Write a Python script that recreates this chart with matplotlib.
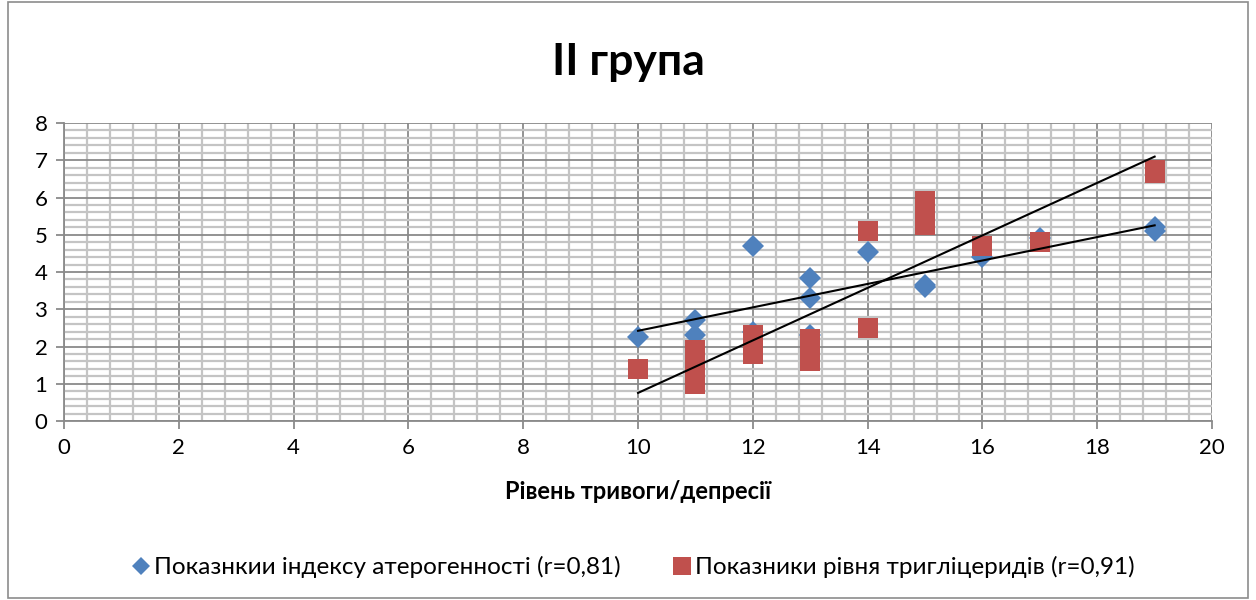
import matplotlib
matplotlib.use("Agg")
import matplotlib.pyplot as plt
import numpy as np
from matplotlib.patches import Rectangle
from matplotlib.ticker import MultipleLocator

plt.rcParams['font.family'] = ['Lato', 'DejaVu Sans']

title = "II група"
xlabel = "Рівень тривоги/депресії"
label_a = "Показнкии індексу атерогенності (r=0,81)"
label_t = "Показники рівня тригліцеридів (r=0,91)"

athero_x = [10, 11, 11, 12, 12, 13, 13, 13, 14, 15, 15, 16, 17, 19, 19]
athero_y = [2.25, 2.7, 2.3, 4.7, 2.4, 3.85, 3.3, 2.3, 4.55, 3.6, 3.65, 4.4, 4.9, 5.2, 5.1]

trig_x = [10, 11, 11, 11, 11, 11, 12, 12, 12, 13, 13, 13, 13, 14, 14, 15, 15, 15, 15, 16, 17, 19, 19]
trig_y = [1.4, 1.0, 1.2, 1.5, 1.7, 1.9, 1.8, 2.0, 2.3, 1.6, 1.8, 2.0, 2.2, 2.5, 5.1,
          5.25, 5.45, 5.65, 5.9, 4.7, 4.8, 6.65, 6.75]

blue = "#4F81BD"
red = "#C0504D"

fig = plt.figure(figsize=(12.56, 6.0), dpi=100)
fig.patches.append(Rectangle((0.006, 0.004), 0.988, 0.992, transform=fig.transFigure,
                             fill=False, edgecolor="#8c8c8c", linewidth=1.2))
ax = fig.add_axes([0.051, 0.2983, 0.914, 0.4967])

ax.set_xlim(0, 20)
ax.set_ylim(0, 8)
ax.xaxis.set_major_locator(MultipleLocator(2))
ax.xaxis.set_minor_locator(MultipleLocator(0.4))
ax.yaxis.set_major_locator(MultipleLocator(1))
ax.yaxis.set_minor_locator(MultipleLocator(0.2))
ax.grid(which='minor', color="#c4c4c4", linewidth=1.6)
ax.grid(which='major', color="#8a8a8a", linewidth=1.3)
ax.set_axisbelow(True)
for s in ['top', 'right']:
    ax.spines[s].set_visible(False)
for s in ['left', 'bottom']:
    ax.spines[s].set_color("#8a8a8a")
    ax.spines[s].set_linewidth(1.3)
ax.tick_params(which='major', length=6, width=1.3, color="#8a8a8a", labelsize=16, pad=6)
ax.tick_params(which='minor', length=0)

ax.plot(athero_x, athero_y, linestyle='none', marker='D', markersize=10.8,
        color=blue, markeredgewidth=0, label=label_a, zorder=3)
ax.plot(trig_x, trig_y, linestyle='none', marker='s', markersize=14.5,
        color=red, markeredgewidth=0, label=label_t, zorder=3)

for xs, ys in [(athero_x, athero_y), (trig_x, trig_y)]:
    k, b = np.polyfit(xs, ys, 1)
    xx = np.array([min(xs), max(xs)])
    ax.plot(xx, k * xx + b, color='black', linewidth=1.5, zorder=4)

fig.text(0.5, 0.897, title, ha='center', va='center', fontsize=32, fontweight='bold')
ax.set_xlabel(xlabel, fontsize=17, fontweight='bold', labelpad=16)

fig.legend(loc='center', bbox_to_anchor=(0.505, 0.055), ncol=2, frameon=False,
           fontsize=17.5, handlelength=0.6, handletextpad=0.25, columnspacing=2.2,
           markerscale=0.85)

fig.savefig("out.png", dpi=100)
